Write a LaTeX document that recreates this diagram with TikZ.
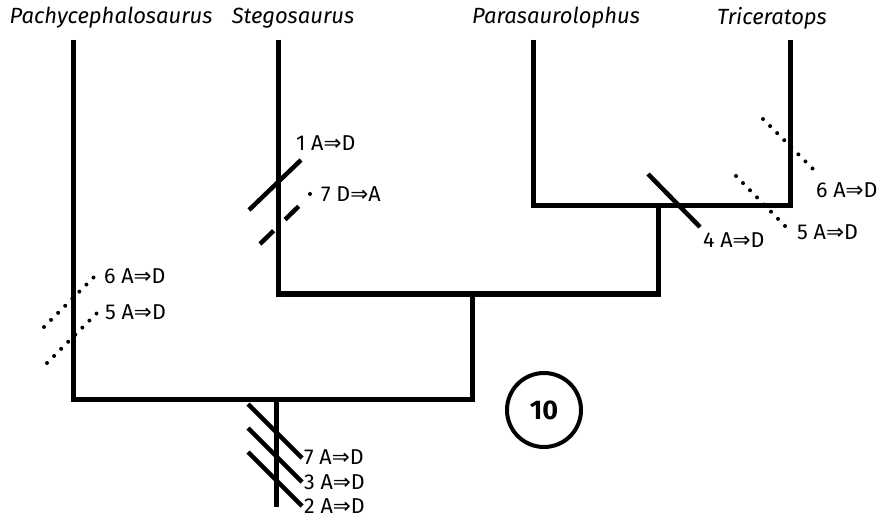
\documentclass[tikz,border=0pt]{standalone}
\usepackage{fontspec}
\setmainfont{Fira Sans}
\newfontfamily\symf{DejaVu Sans}
\newcommand{\imp}{{\symf\char"21D2}}
\begin{document}
\begin{tikzpicture}[x=1pt,y=-1pt,
  branch/.style={line width=5pt,line join=miter,line cap=butt},
  tick/.style={line width=4.5pt},
  dashtick/.style={line width=4.5pt,dash pattern=on 19pt off 16pt},
  dotline/.style={line width=4pt,line cap=round,dash pattern=on 0pt off 10pt},
  taxon/.style={font=\fontsize{22}{26}\selectfont\itshape,inner sep=0pt},
  chg/.style={font=\fontsize{21.5}{24}\selectfont,anchor=west,inner sep=0pt}]
\useasboundingbox (0,0) rectangle (885,518);
% tree coordinates
\coordinate (pt) at (73,40);   \coordinate (pb) at (73,399);
\coordinate (st) at (278,40);  \coordinate (sb) at (278,294);
\coordinate (pat) at (533,40); \coordinate (pab) at (533,206);
\coordinate (tt) at (790,40);  \coordinate (tb) at (790,206);
\coordinate (j1) at (658,206); \coordinate (j1b) at (658,294);
\coordinate (j2) at (472,294); \coordinate (j2b) at (472,399);
\coordinate (root) at (276,399); \coordinate (rootb) at (276,507);
% taxa
\node[taxon] (pachy) at (111,18) {Pachycephalosaurus};
\node[taxon] (stego) at (293,18) {Stegosaurus};
\node[taxon] (para) at (556,18) {Parasaurolophus};
\node[taxon] (trice) at (772,18) {Triceratops};
% branches
\draw[branch] (pt) -- (pb) -- (j2b) -- (j2);
\draw[branch] (st) -- (sb) -- (j1b) -- (j1);
\draw[branch] (pat) -- (pab) -- (tb) -- (tt);
\draw[branch] (root) -- (rootb);
% Stegosaurus marks
\coordinate (s1a) at (249,210); \coordinate (s1b) at (301,160);
\draw[tick] (s1a) -- (s1b);
\coordinate (s7a) at (260,244); \coordinate (s7b) at (299,206);
\draw[dashtick] (s7a) -- (s7b);
\fill (310,194) circle (2pt);
\node[chg] (c1) at (296,143) {1 A\imp D};
\node[chg] (c7s) at (321,194) {7 D\imp A};
% Pachycephalosaurus marks
\coordinate (p6a) at (44,327); \coordinate (p6b) at (95,276);
\coordinate (p5a) at (47,363); \coordinate (p5b) at (98,312);
\draw[dotline] (p6a) -- (p6b);
\draw[dotline] (p5a) -- (p5b);
\node[chg] (c6p) at (104,276) {6 A\imp D};
\node[chg] (c5p) at (105,312) {5 A\imp D};
% root marks
\coordinate (r7a) at (248,404); \coordinate (r7b) at (302,458);
\coordinate (r3a) at (248,428); \coordinate (r3b) at (302,482);
\coordinate (r2a) at (248,452); \coordinate (r2b) at (302,506);
\draw[tick] (r7a) -- (r7b);
\draw[tick] (r3a) -- (r3b);
\draw[tick] (r2a) -- (r2b);
\node[chg] (c7r) at (304,457) {7 A\imp D};
\node[chg] (c3r) at (304,482) {3 A\imp D};
\node[chg] (c2r) at (304,506) {2 A\imp D};
% right clade marks
\coordinate (h4a) at (648,174); \coordinate (h4b) at (700,227);
\draw[tick] (h4a) -- (h4b);
\node[chg] (c4) at (703,240) {4 A\imp D};
\coordinate (t5a) at (736,176); \coordinate (t5b) at (786,227);
\draw[dotline] (t5a) -- (t5b);
\node[chg] (c5t) at (797,232) {5 A\imp D};
\coordinate (t6a) at (763,119); \coordinate (t6b) at (814,170);
\draw[dotline] (t6a) -- (t6b);
\node[chg] (c6t) at (816,190) {6 A\imp D};
% step count
\node[draw,circle,line width=4pt,minimum size=74pt,inner sep=0pt,
  font=\fontsize{27}{30}\selectfont\bfseries] (steps) at (544,410) {10};
\end{tikzpicture}
\end{document}
